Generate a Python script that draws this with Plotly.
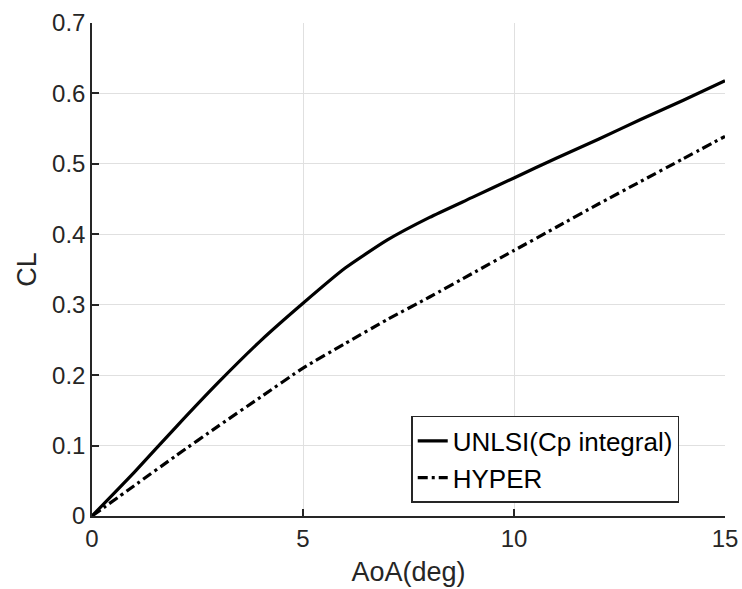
import plotly.graph_objects as go

aoa = [0, 1, 2, 3, 4, 5, 6, 7, 8, 9, 10, 11, 12, 13, 14, 15]
cl_unlsi = [0.0, 0.062, 0.127, 0.19, 0.249, 0.302, 0.352, 0.392, 0.424, 0.452, 0.480, 0.508, 0.535, 0.563, 0.590, 0.618]
cl_hyper = [0.0, 0.043, 0.086, 0.128, 0.169, 0.21, 0.245, 0.279, 0.311, 0.344, 0.377, 0.410, 0.443, 0.475, 0.507, 0.539]

FONT = "Liberation Sans, Arial, Helvetica"

fig = go.Figure()
fig.add_trace(go.Scatter(x=aoa, y=cl_unlsi, mode="lines", name="UNLSI(Cp integral)",
                         line=dict(color="black", width=3.2, shape="spline", smoothing=0.5)))
fig.add_trace(go.Scatter(x=aoa, y=cl_hyper, mode="lines", name="HYPER",
                         line=dict(color="black", width=3.2, shape="spline", smoothing=0.5,
                                   dash="10px,4px,3px,4px")))

axis_common = dict(showgrid=True, gridcolor="#e0e0e0", gridwidth=1,
                   showline=True, linecolor="#262626", linewidth=1.5,
                   ticks="inside", ticklen=7, tickcolor="#262626", tickwidth=1.5,
                   tickfont=dict(family=FONT, size=24, color="#262626"),
                   zeroline=False, mirror=False, automargin=False)

fig.update_layout(
    width=742, height=589,
    margin=dict(l=92, r=17, t=23, b=73),
    paper_bgcolor="white", plot_bgcolor="white",
    xaxis=dict(range=[0, 15], tickvals=[0, 5, 10, 15],
               title=dict(text="AoA(deg)", font=dict(family=FONT, size=27, color="#262626"), standoff=12),
               **axis_common),
    yaxis=dict(range=[0, 0.7], tickvals=[0, 0.1, 0.2, 0.3, 0.4, 0.5, 0.6, 0.7],
               title=dict(text="CL", font=dict(family=FONT, size=27, color="#262626"), standoff=8),
               **axis_common),
    legend=dict(x=0.716, y=0.203, xanchor="center", yanchor="top",
                bgcolor="white", bordercolor="#262626", borderwidth=1.5,
                font=dict(family=FONT, size=26, color="black"),
                tracegroupgap=0),
    showlegend=True,
)

fig.write_html("out.html")
